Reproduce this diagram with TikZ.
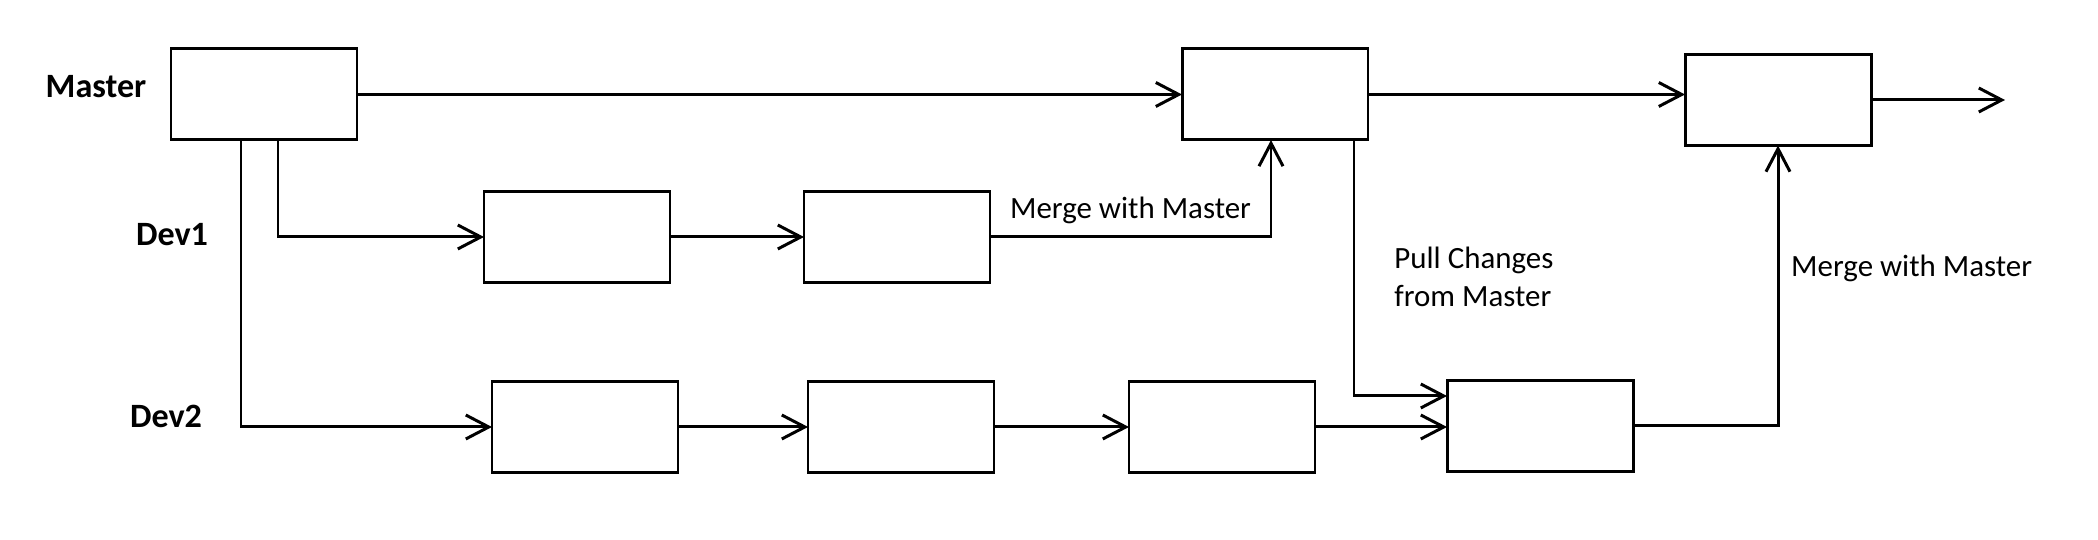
\documentclass[tikz,border=0pt]{standalone}
\usepackage{fontspec}
\setmainfont{Carlito}
\usetikzlibrary{arrows.meta}

\begin{document}
\begin{tikzpicture}[x=0.1mm, y=-0.1mm,
                    commit/.style={draw, line width=0.85pt, minimum width=1.86cm, minimum height=0.91cm, inner sep=0pt, outer sep=0pt},
                    branch/.style={font=\fontsize{9.7}{12}\selectfont\bfseries},
                    note/.style={font=\fontsize{8.8}{10.8}\selectfont},
                    flow/.style={line width=0.85pt, -{Straight Barb[length=2.3mm,width=2.4mm]}}]

                    \useasboundingbox (0,0) rectangle (2098,540);

                    % branch names
                    \node[branch] (master) at (96,87) {Master};
                    \node[branch] (dev1) at (172,235) {Dev1};
                    \node[branch] (dev2) at (166,416) {Dev2};

                    % commits
                    \node[commit] (m0) at (264,94.5) {};
                    \node[commit] (m1) at (1275,94.5) {};
                    \node[commit] (m2) at (1778,100) {};
                    \node[commit] (d1a) at (577,237) {};
                    \node[commit] (d1b) at (897,237) {};
                    \node[commit] (d2a) at (585,427) {};
                    \node[commit] (d2b) at (901,427) {};
                    \node[commit] (d2c) at (1222,427) {};
                    \node[commit] (d2d) at (1540,426) {};
                    \coordinate (mend) at (2005,100);

                    % master line
                    \draw[flow] (m0.east) -- (m1.west);
                    \draw[flow] (m1.east) -- (m1.east -| m2.west);
                    \draw[flow] (m2.east) -- (mend);

                    % dev1
                    \draw[flow] ([xshift=1.4mm]m0.south) |- (d1a.west);
                    \draw[flow] (d1a.east) -- (d1b.west);
                    \draw[flow] (d1b.east) -| node[note, pos=0.25, above] {Merge with Master} ([xshift=-0.4mm]m1.south);

                    % dev2
                    \draw[flow] ([xshift=-2.3mm]m0.south) |- (d2a.west);
                    \draw[flow] (d2a.east) -- (d2b.west);
                    \draw[flow] (d2b.east) -- (d2c.west);
                    \draw[flow] (d2c.east) -- (d2c.east -| d2d.west);
                    \draw[flow] ([xshift=7.9mm]m1.south) |- ([yshift=3mm]d2d.west);
                    \draw[flow] (d2d.east) -| node[note, pos=0.78, right] {Merge with Master} (m2.south);

                    \node[note, anchor=west, align=left] (pull) at (1382,277) {Pull Changes\\from Master};

                \end{tikzpicture}
\end{document}
